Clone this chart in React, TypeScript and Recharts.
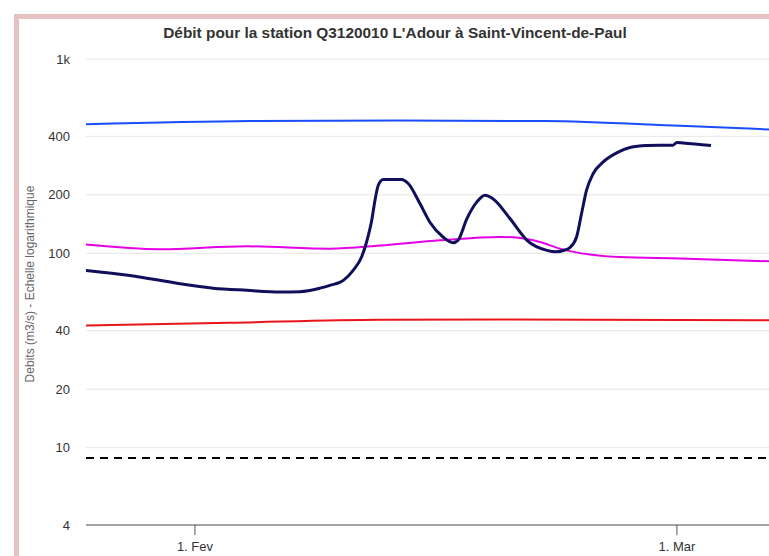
import { LineChart, Line, XAxis, YAxis, CartesianGrid, ReferenceLine } from "recharts";

// x values are days counted from 1 February (1 March = day 28)
const flowDays = [
  -6.33, -3.78, -0.87, 1.05, 3.02, 4.94, 6.1, 7.26, 7.84, 8.62, 9.19, 9.68, 9.97, 10.27, 10.46, 10.65,
  10.94, 12.01, 12.39, 13.07, 13.65, 14.41, 14.99, 15.28, 15.8, 16.38, 16.85, 17.31, 18.3, 19.29, 20.45,
  20.97, 21.49, 21.78, 22.17, 22.46, 22.75, 23.14, 23.72, 24.5, 25.27, 26.24, 27.01, 27.77, 28.0, 28.35, 29.98,
];
const flowValues = [
  81.7, 77.0, 69.8, 66.2, 64.5, 63.2, 63.5, 66.2, 68.4, 72.6, 81.8, 95.7, 114.4, 147.9, 187.6, 224,
  240, 240, 228.7, 180.4, 144.5, 121.3, 113.5, 116.7, 151, 184, 199, 191, 151, 116.7, 103.6,
  101.8, 104, 107, 121.3, 160.2, 211.2, 257.5, 295.5, 328.9, 350.7, 359.2, 360.4, 360.4, 372, 370, 359,
];

const blueDays = [-6.33, 3.2, 11.9, 20.3, 28.2, 33.35];
const blueValues = [461, 479, 483, 479, 453, 434];

const magentaDays = [-6.33, -2.03, 3.02, 7.84, 10.75, 14.23, 17.72, 18.47, 20.04, 21.2, 22.95, 24.69, 28.17, 33.35];
const magentaValues = [110.9, 104.9, 108.7, 105.7, 109.6, 116.7, 121.4, 121, 114.4, 105.7, 98.5, 95.7, 94.2, 91.0];

const redDays = [-6.33, 2.0, 10.75, 17.7, 33.35];
const redValues = [42.5, 43.9, 45.5, 45.7, 45.2];

const thresholdValue = 8.85;

const yTicks = [4, 10, 20, 40, 100, 200, 400, 1000];
const xTicks = [0, 28];
const xTickLabels = ["1. Fev", "1. Mar"];

const toSeries = (days: number[], values: number[]) => days.map((d, i) => ({ d, v: values[i] }));

const flow = toSeries(flowDays, flowValues);
const blue = toSeries(blueDays, blueValues);
const magenta = toSeries(magentaDays, magentaValues);
const red = toSeries(redDays, redValues);

const font = "'Liberation Sans', Arial, Helvetica, sans-serif";

export default function App() {
  return (
    <div
      style={{
        position: "fixed",
        left: 0,
        top: 0,
        width: 769,
        height: 556,
        overflow: "hidden",
        background: "#fff",
        fontFamily: font,
      }}
    >
      <div
        style={{
          position: "absolute",
          left: 14,
          top: 14,
          width: 820,
          height: 620,
          border: "5px solid #e6c3c3",
        }}
      />
      <div style={{ position: "absolute", left: 0, top: 0 }}>
        <LineChart width={769} height={556} margin={{ top: 59, right: 0, bottom: 0, left: 0 }}>
          <CartesianGrid vertical={false} stroke="#e6e6e6" />
          <XAxis
            type="number"
            dataKey="d"
            domain={[-6.33, 33.35]}
            allowDataOverflow
            ticks={xTicks}
            tickFormatter={(v: number) => xTickLabels[xTicks.indexOf(v)] ?? ""}
            height={31}
            tickSize={10}
            tickMargin={7}
            stroke="#555"
            tick={{ fill: "#333", fontSize: 13, fontFamily: font }}
          />
          <YAxis
            type="number"
            scale="log"
            domain={[4, 1000]}
            allowDataOverflow
            ticks={yTicks}
            tickFormatter={(v: number) => (v >= 1000 ? `${v / 1000}k` : `${v}`)}
            width={86}
            axisLine={false}
            tickLine={false}
            tickSize={0}
            tickMargin={16}
            tick={{ fill: "#333", fontSize: 13, fontFamily: font }}
          />
          <ReferenceLine y={thresholdValue} stroke="#000" strokeWidth={2} strokeDasharray="8 6" />
          <Line data={red} dataKey="v" type="monotone" stroke="#e8161b" strokeWidth={2} dot={false} activeDot={false} isAnimationActive={false} />
          <Line data={blue} dataKey="v" type="monotone" stroke="#1a4dff" strokeWidth={2} dot={false} activeDot={false} isAnimationActive={false} />
          <Line data={magenta} dataKey="v" type="monotone" stroke="#e600e6" strokeWidth={2} dot={false} activeDot={false} isAnimationActive={false} />
          <Line data={flow} dataKey="v" type="monotone" stroke="#0f0f5c" strokeWidth={3} dot={false} activeDot={false} isAnimationActive={false} />
        </LineChart>
      </div>
      <svg width={769} height={556} style={{ position: "absolute", left: 0, top: 0, pointerEvents: "none" }}>
        <text x={395} y={38} textAnchor="middle" fontSize={15.4} fontWeight="bold" fill="#333" fontFamily={font}>
          Débit pour la station Q3120010 L'Adour à Saint-Vincent-de-Paul
        </text>
        <text
          x={34}
          y={284}
          textAnchor="middle"
          fontSize={12}
          fill="#666"
          fontFamily={font}
          transform="rotate(-90 34 284)"
        >
          Debits (m3/s) - Echelle logarithmique
        </text>
      </svg>
    </div>
  );
}
